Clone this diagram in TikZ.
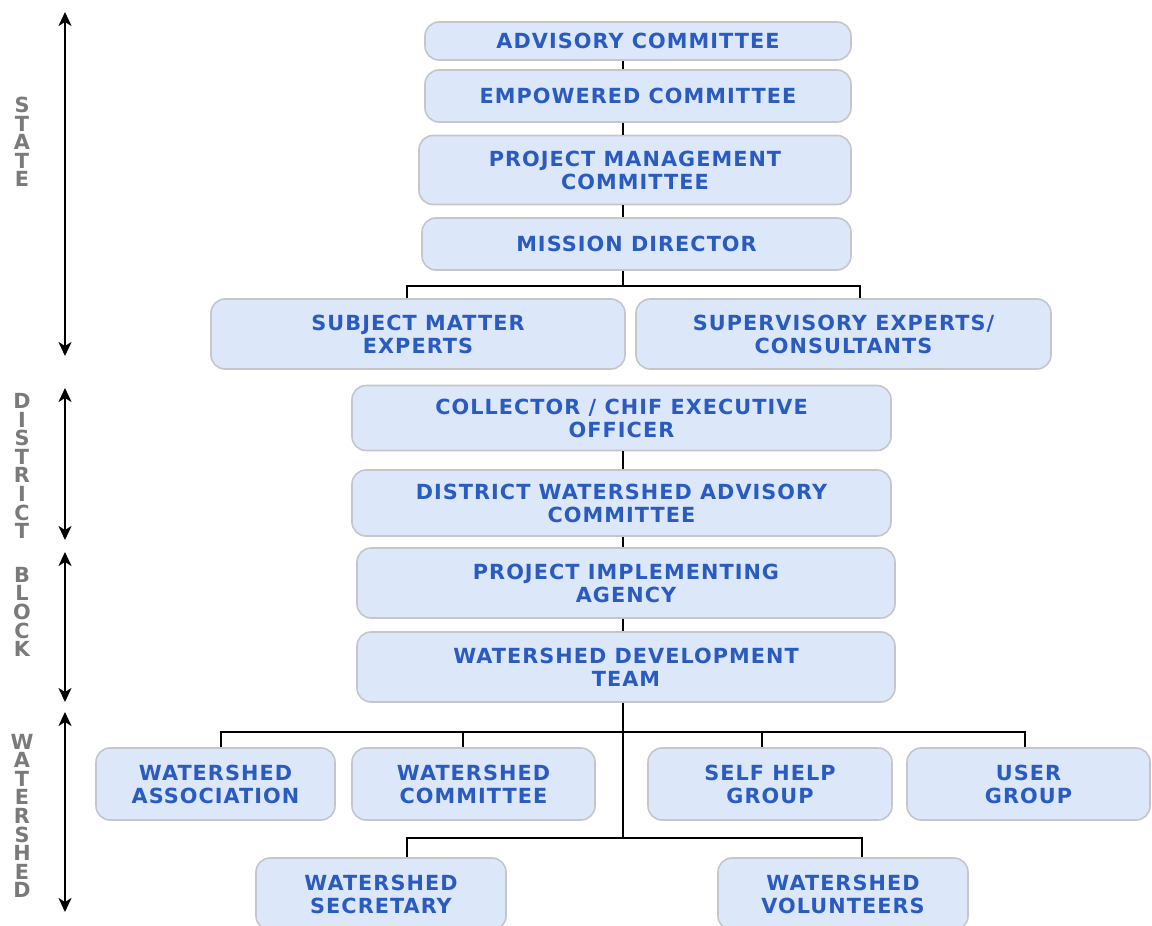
\documentclass[tikz,border=0pt]{standalone}
\usepackage{fontspec}
\setmainfont[LetterSpace=5]{DejaVu Sans}
\usetikzlibrary{positioning, arrows.meta, calc}
\definecolor{colorfill}{HTML}{DCE7FA}
\definecolor{coloredge}{HTML}{C4C6CC}
\definecolor{colortext}{HTML}{2A5BC0}
\definecolor{colorlevel}{HTML}{7A7A7A}

\begin{document}
\begin{tikzpicture}[
    x=0.5pt, y=-0.5pt,
    % Light blue rounded boxes for each body
    unitbox/.style={
        rectangle,
        draw=coloredge,
        fill=colorfill,
        rounded corners=7pt,
        align=center,
        inner sep=2pt,
        line width=0.8pt,
        text=colortext,
        font=\bfseries\fontsize{10.4}{11.5}\selectfont
    },
    % Plain black connectors
    link/.style={
        black,
        line width=0.8pt
    },
    % Double-headed arrows marking each level
    levelarrow/.style={
        {Stealth[length=7pt, width=6.5pt, inset=2pt]}-{Stealth[length=7pt, width=6.5pt, inset=2pt]},
        black,
        line width=1pt
    },
    levellabel/.style={
        align=center,
        inner sep=0pt,
        text=colorlevel,
        font=\bfseries\fontsize{10.4}{9.3}\selectfont
    }
]
\useasboundingbox (0,0) rectangle (1152,926);

% ==============================
% State level
% ==============================
\node[unitbox, minimum width=213pt, minimum height=19pt] (adv) at (638,41) {ADVISORY COMMITTEE};
\node[unitbox, minimum width=213pt, minimum height=26pt] (emp) at (638,96) {EMPOWERED COMMITTEE};
\node[unitbox, minimum width=216pt, minimum height=34.5pt] (pmc) at (635,170) {PROJECT MANAGEMENT\\COMMITTEE};
\node[unitbox, minimum width=214.5pt, minimum height=26pt] (mission) at (636.5,244) {MISSION DIRECTOR};
\node[unitbox, minimum width=207pt, minimum height=35pt] (sme) at (418,334) {SUBJECT MATTER\\EXPERTS};
\node[unitbox, minimum width=207.5pt, minimum height=35pt] (sup) at (843.5,334) {SUPERVISORY EXPERTS/\\CONSULTANTS};

% ==============================
% District and block level
% ==============================
\node[unitbox, minimum width=269.5pt, minimum height=32.5pt] (coll) at (621.5,418) {COLLECTOR / CHIF EXECUTIVE\\OFFICER};
\node[unitbox, minimum width=269.5pt, minimum height=33pt] (dwac) at (621.5,503) {DISTRICT WATERSHED ADVISORY\\COMMITTEE};
\node[unitbox, minimum width=269pt, minimum height=35pt] (pia) at (626,583) {PROJECT IMPLEMENTING\\AGENCY};
\node[unitbox, minimum width=269pt, minimum height=35pt] (wdt) at (626,667) {WATERSHED DEVELOPMENT\\TEAM};

% ==============================
% Watershed level
% ==============================
\node[unitbox, minimum width=119.5pt, minimum height=36pt] (wsa) at (215.5,784) {WATERSHED\\ASSOCIATION};
\node[unitbox, minimum width=121.5pt, minimum height=36pt] (wsc) at (473.5,784) {WATERSHED\\COMMITTEE};
\node[unitbox, minimum width=122pt, minimum height=36pt] (shg) at (770,784) {SELF HELP\\GROUP};
\node[unitbox, minimum width=121.5pt, minimum height=36pt] (ug) at (1028.5,784) {USER\\GROUP};
\node[unitbox, minimum width=125pt, minimum height=36pt] (wss) at (381,894) {WATERSHED\\SECRETARY};
\node[unitbox, minimum width=125pt, minimum height=36pt] (wsv) at (843,894) {WATERSHED\\VOLUNTEERS};

% ==============================
% Connectors
% ==============================
\coordinate (trunk) at (623,0);
\coordinate (busA) at (623,286);
\coordinate (busB) at (623,732);
\coordinate (busC) at (623,838);

\draw[link] (adv.south -| trunk) -- (emp.north -| trunk);
\draw[link] (emp.south -| trunk) -- (pmc.north -| trunk);
\draw[link] (pmc.south -| trunk) -- (mission.north -| trunk);
\draw[link] (mission.south -| trunk) -- (busA);
\draw[link] ([xshift=-5.5pt]sme.north) |- (busA) -| ([xshift=8.25pt]sup.north);

\draw[link] (coll.south -| trunk) -- (dwac.north -| trunk);
\draw[link] (dwac.south -| trunk) -- (pia.north -| trunk);
\draw[link] (pia.south -| trunk) -- (wdt.north -| trunk);

% Two buses hang off the team box
\draw[link] (wdt.south -| trunk) -- (busC);
\draw[link] ([xshift=2.75pt]wsa.north) |- (busB) -| ([xshift=-1.75pt]ug.north);
\draw[link] ([xshift=-5.25pt]wsc.north) -- ([xshift=-5.25pt]wsc.north |- busB);
\draw[link] ([xshift=-4pt]shg.north) -- ([xshift=-4pt]shg.north |- busB);
\draw[link] ([xshift=13pt]wss.north) |- (busC) -| ([xshift=9.5pt]wsv.north);

% ==============================
% Levels on the left
% ==============================
\coordinate (stateTop) at (65,12);
\coordinate (stateBot) at (65,356);
\coordinate (distTop) at (65,388);
\coordinate (distBot) at (65,540);
\coordinate (blockTop) at (65,552);
\coordinate (blockBot) at (65,702);
\coordinate (shedTop) at (65,712);
\coordinate (shedBot) at (65,912);

\draw[levelarrow] (stateTop) -- (stateBot);
\draw[levelarrow] (distTop) -- (distBot);
\draw[levelarrow] (blockTop) -- (blockBot);
\draw[levelarrow] (shedTop) -- (shedBot);

\node[levellabel] (stateLbl) at (22,142) {S\\T\\A\\T\\E};
\node[levellabel] (distLbl) at (22,466) {D\\I\\S\\T\\R\\I\\C\\T};
\node[levellabel] (blockLbl) at (22,612) {B\\L\\O\\C\\K};
\node[levellabel] (shedLbl) at (22,816) {W\\A\\T\\E\\R\\S\\H\\E\\D};

\end{tikzpicture}
\end{document}
